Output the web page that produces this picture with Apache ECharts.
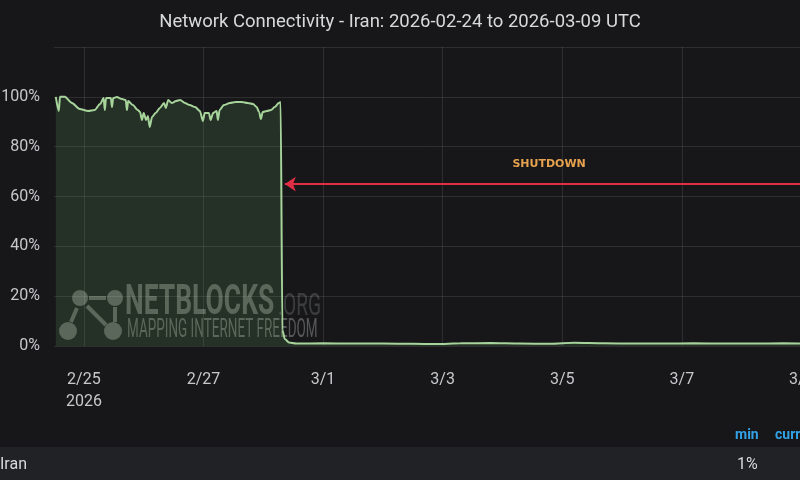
<!DOCTYPE html>
<html>
<head>
<meta charset="utf-8">
<script src="https://cdn.jsdelivr.net/npm/echarts@6/dist/echarts.min.js"></script>
<style>
html,body{margin:0;padding:0;background:#17171a;}
#c{width:800px;height:480px;}
</style>
</head>
<body>
<div id="c"></div>
<script>
// x: days since 2026-02-25 00:00 UTC; y: connectivity %
const dayOffsets = [-0.47,-0.42,-0.40,-0.32,-0.20,-0.07,0.07,0.18,0.27,0.33,0.35,0.37,0.45,0.47,0.49,0.55,0.64,0.70,0.72,0.74,0.82,0.90,0.94,0.97,1.00,1.04,1.07,1.10,1.14,1.20,1.27,1.34,1.37,1.41,1.47,1.54,1.61,1.69,1.77,1.86,1.94,1.99,2.02,2.09,2.12,2.16,2.22,2.24,2.27,2.34,2.44,2.54,2.64,2.74,2.83,2.89,2.93,2.96,2.99,3.06,3.13,3.19,3.26,3.29,3.32,3.36,3.43,3.55,4.0,4.5,5.0,5.5,5.9,6.3,6.8,7.3,7.8,8.2,8.7,9.2,9.7,10.2,10.7,11.2,11.7,12.2,12.7,13.2,14.0];
const connectivity = [100,94.3,100,100,97.5,95.1,94.3,94.7,97.1,99.5,94.7,99.5,99.5,95.9,99.5,99.9,99.1,98.7,94.7,98.3,96.7,94.7,93.9,90.7,93.5,90.7,92.3,87.9,91.9,93.5,95.5,97.5,95.5,98.7,97.5,98.3,98.7,97.5,96.7,95.9,94.3,90.3,93.5,93.5,90.7,93.5,94.3,90.7,94.7,96.7,97.5,97.9,97.9,97.5,97.1,95.9,93.9,91.1,93.9,94.3,94.7,95.9,97.5,97.9,6.4,2.8,1.4,1.0,1.1,1.0,1.0,0.9,0.8,1.1,1.2,1.0,0.9,1.3,1.1,1.0,1.0,1.1,1.0,1.0,1.1,1.0,1.0,1.0,1.0];
const xTickValues = [0,2,4,6,8,10,12,14];
const xTickLabels = ['2/25\n2026','2/27','3/1','3/3','3/5','3/7','3/9','3/11'];
const yTicks = [0,20,40,60,80,100,120];
const shutdownStart = 3.36, shutdownArrowEnd = 12.2, shutdownLevel = 65;
const seriesName = 'Iran';
const titleText = 'Network Connectivity - Iran: 2026-02-24 to 2026-03-09 UTC';

const chart = echarts.init(document.getElementById('c'), null, {renderer:'canvas'});
const pts = dayOffsets.map((d,i)=>[d, connectivity[i]]);
const minVal = Math.round(Math.min(...connectivity));
const font = 'Roboto, "Noto Sans", sans-serif';
const wm = 'rgba(205,210,205,0.35)';

chart.setOption({
  animation:false,
  backgroundColor:'#17171a',
  title:{text:titleText,left:'center',top:8,textStyle:{color:'#d8d9da',fontSize:18.5,fontWeight:'normal',fontFamily:font}},
  grid:{left:54,top:47,width:867,height:299,containLabel:false,outerBoundsMode:'none'},
  xAxis:{type:'value',min:-0.5,max:14,
    axisLine:{show:false},
    axisTick:{show:false,customValues:xTickValues},
    splitLine:{show:true,lineStyle:{color:'rgba(255,255,255,0.1)',width:1}},
    axisLabel:{customValues:xTickValues,color:'#c7c8ca',fontSize:16,fontFamily:font,margin:23,lineHeight:22,verticalAlign:'top',
      formatter:v=>{ const i = xTickValues.indexOf(Math.round(v)); return i>=0 ? xTickLabels[i] : ''; }}
  },
  yAxis:{type:'value',min:0,max:120,interval:20,
    axisLine:{show:false},axisTick:{show:false},
    splitLine:{lineStyle:{color:'rgba(255,255,255,0.1)',width:1}},
    axisLabel:{color:'#c7c8ca',fontSize:16,fontFamily:font,margin:14,
      formatter:v=> (yTicks.indexOf(v)>=0 && v<120) ? v+'%' : ''}
  },
  series:[{
    name:seriesName,type:'line',data:pts,showSymbol:false,smooth:0.25,smoothMonotone:'x',
    lineStyle:{color:'#a6d49b',width:2},
    areaStyle:{color:'rgba(115,191,105,0.22)'},
    z:3,
    markLine:{silent:true,symbol:['arrow','none'],symbolSize:[11,11],
      lineStyle:{color:'#e02f44',width:2,type:'solid'},
      label:{show:true,position:'insideMiddleTop',distance:14,formatter:'SHUTDOWN',color:'#e6a24e',fontSize:11,fontWeight:'bold',fontFamily:'"DejaVu Sans", sans-serif'},
      data:[[{coord:[shutdownStart,shutdownLevel]},{coord:[shutdownArrowEnd,shutdownLevel]}]]
    }
  }],
  graphic:[
    {type:'group',z:50,silent:true,children:[
      {type:'line',shape:{x1:89,y1:298,x2:106,y2:298},style:{stroke:wm,lineWidth:4}},
      {type:'line',shape:{x1:77,y1:308,x2:71,y2:322},style:{stroke:wm,lineWidth:4}},
      {type:'line',shape:{x1:87,y1:306,x2:106,y2:325},style:{stroke:wm,lineWidth:4}},
      {type:'line',shape:{x1:115,y1:307,x2:115,y2:322},style:{stroke:wm,lineWidth:4}},
      {type:'circle',shape:{cx:80,cy:298,r:8},style:{fill:wm}},
      {type:'circle',shape:{cx:115,cy:298,r:8},style:{fill:wm}},
      {type:'circle',shape:{cx:68,cy:331,r:9},style:{fill:wm}},
      {type:'circle',shape:{cx:113,cy:331,r:9},style:{fill:wm}},
      {type:'text',x:125,y:303,scaleX:0.63,style:{text:'NETBLOCKS',fill:wm,font:'bold 42px Roboto, sans-serif',verticalAlign:'middle'}},
      {type:'text',x:278,y:307,scaleX:0.6,style:{text:'.ORG',fill:'rgba(205,210,205,0.2)',font:'32px Roboto, sans-serif',verticalAlign:'middle'}},
      {type:'text',x:127,y:331,scaleX:0.54,style:{text:'MAPPING INTERNET FREEDOM',fill:wm,font:'25px Roboto, sans-serif',verticalAlign:'middle'}}
    ]},
    {type:'rect',z:1,shape:{x:0,y:447,width:800,height:33},style:{fill:'#212225'}},
    {type:'text',z:2,x:735,y:435,style:{text:'min',fill:'#33a2e5',font:'bold 14px '+font,verticalAlign:'middle'}},
    {type:'text',z:2,x:775,y:435,style:{text:'current',fill:'#33a2e5',font:'bold 14px '+font,verticalAlign:'middle'}},
    {type:'text',z:2,x:0,y:465,style:{text:seriesName,fill:'#d8d9da',font:'16px '+font,verticalAlign:'middle'}},
    {type:'text',z:2,x:737,y:465,style:{text:minVal+'%',fill:'#d8d9da',font:'16px '+font,verticalAlign:'middle'}}
  ]
});
</script>
</body>
</html>
